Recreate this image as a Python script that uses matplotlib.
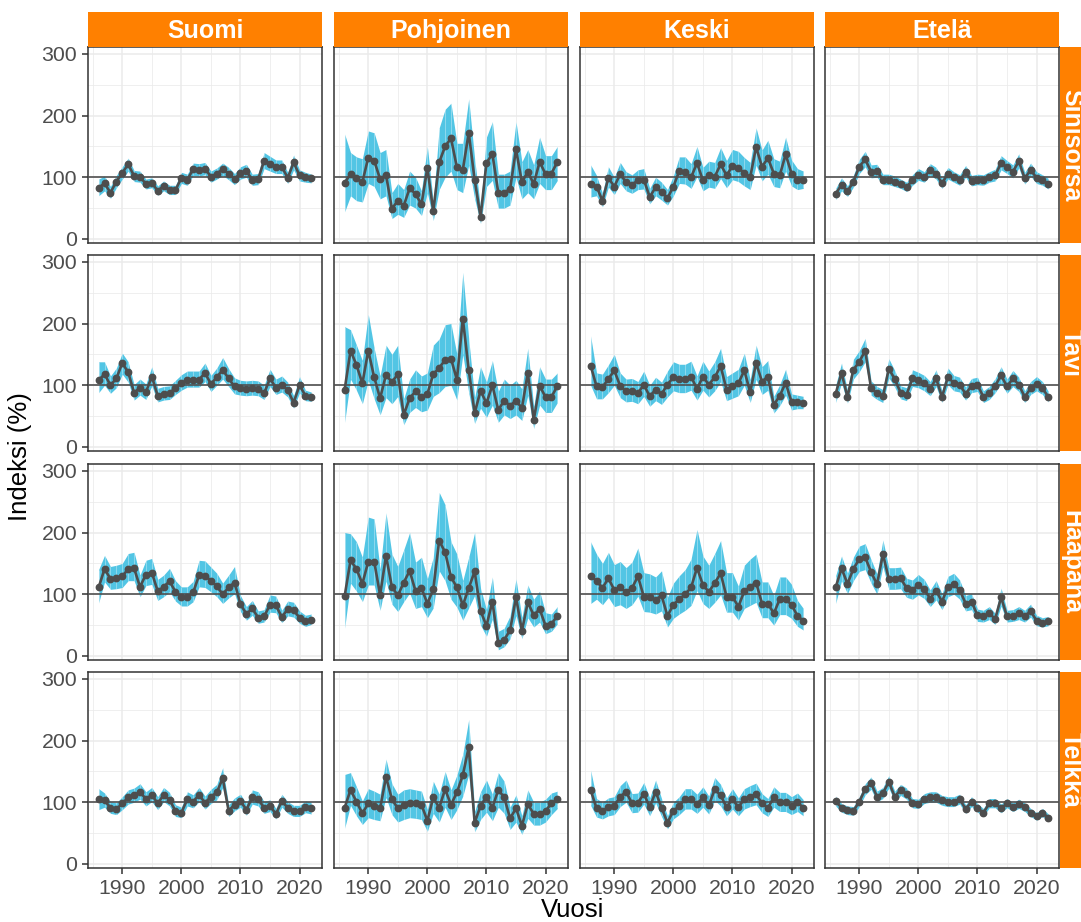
import matplotlib
matplotlib.use("Agg")
import matplotlib.pyplot as plt

plt.rcParams['font.family'] = ['Liberation Sans', 'DejaVu Sans']

years = list(range(1986, 2023))
regions = ["Suomi", "Pohjoinen", "Keski", "Etelä"]
species = ["Sinisorsa", "Tavi", "Haapana", "Telkkä"]

# --- Sinisorsa ---
sinisorsa_suomi = [83, 90, 75, 93, 107, 121, 102, 101, 89, 91, 78, 86, 79, 79, 99, 96, 113, 112, 114, 101,
                   106, 113, 106, 97, 107, 110, 96, 97, 127, 122, 117, 117, 99, 124, 103, 100, 98]
sinisorsa_suomi_lo = [70, 78, 66, 83, 97, 110, 93, 92, 81, 83, 71, 78, 72, 72, 90, 87, 103, 102, 104, 92,
                      97, 103, 96, 88, 97, 100, 87, 88, 114, 110, 106, 106, 90, 112, 94, 92, 91]
sinisorsa_suomi_hi = [97, 102, 85, 103, 117, 131, 111, 110, 97, 99, 86, 94, 87, 87, 108, 105, 123, 122, 124, 110,
                      115, 123, 116, 106, 117, 121, 105, 106, 140, 134, 128, 128, 108, 136, 112, 108, 105]

sinisorsa_pohjoinen = [91, 105, 98, 92, 132, 127, 97, 104, 49, 62, 54, 82, 73, 56, 115, 45, 124, 150, 163, 116,
                       112, 172, 96, 36, 123, 138, 75, 75, 81, 145, 92, 109, 89, 125, 105, 106, 125]
sinisorsa_pohjoinen_lo = [44, 70, 62, 60, 90, 85, 65, 70, 33, 40, 35, 55, 50, 38, 75, 30, 80, 100, 110, 80,
                          75, 120, 65, 25, 85, 95, 50, 50, 55, 100, 65, 75, 65, 90, 80, 80, 95]
sinisorsa_pohjoinen_hi = [170, 140, 133, 130, 175, 172, 140, 145, 75, 90, 80, 110, 100, 78, 150, 60, 180, 210, 220, 155,
                          155, 227, 130, 50, 165, 190, 105, 105, 110, 190, 125, 145, 120, 165, 135, 135, 150]

sinisorsa_keski = [89, 85, 62, 99, 85, 105, 92, 88, 95, 96, 68, 84, 76, 66, 85, 110, 109, 100, 123, 95,
                   103, 101, 121, 103, 118, 115, 107, 100, 149, 117, 131, 106, 103, 137, 106, 96, 96]
sinisorsa_keski_lo = [68, 70, 52, 84, 72, 90, 78, 74, 80, 81, 57, 70, 63, 55, 70, 90, 89, 82, 101, 78,
                      84, 82, 98, 83, 96, 93, 86, 80, 120, 94, 105, 85, 83, 110, 86, 80, 82]
sinisorsa_keski_hi = [120, 103, 74, 117, 100, 124, 109, 104, 112, 114, 82, 100, 92, 80, 102, 133, 133, 122, 150, 116,
                      126, 124, 148, 127, 145, 142, 132, 124, 180, 144, 160, 130, 126, 165, 128, 114, 110]

sinisorsa_etela = [73, 88, 77, 93, 117, 129, 109, 110, 96, 96, 93, 89, 84, 95, 104, 100, 112, 106, 90, 106,
                   100, 95, 109, 94, 96, 95, 100, 103, 123, 116, 109, 126, 98, 112, 99, 95, 89]
sinisorsa_etela_lo = [64, 78, 69, 84, 106, 117, 99, 100, 88, 88, 85, 82, 77, 87, 95, 92, 103, 97, 82, 97,
                      92, 87, 100, 86, 88, 87, 92, 94, 112, 106, 99, 115, 89, 102, 90, 87, 81]
sinisorsa_etela_hi = [82, 99, 86, 103, 129, 142, 120, 121, 105, 105, 102, 97, 92, 104, 114, 109, 122, 116, 99, 116,
                      109, 104, 119, 103, 105, 104, 109, 113, 135, 127, 120, 138, 108, 123, 109, 104, 98]

# --- Tavi ---
tavi_suomi = [108, 118, 100, 111, 136, 121, 88, 96, 89, 114, 83, 86, 87, 96, 103, 109, 109, 109, 120, 102,
              113, 125, 111, 98, 95, 94, 95, 94, 87, 111, 96, 101, 92, 72, 100, 83, 81]
tavi_suomi_lo = [88, 100, 87, 96, 118, 105, 76, 84, 77, 99, 73, 76, 77, 85, 92, 97, 97, 97, 106, 90,
                 100, 110, 98, 86, 84, 83, 84, 83, 77, 98, 85, 89, 81, 63, 88, 75, 74]
tavi_suomi_hi = [138, 138, 115, 128, 152, 138, 101, 110, 102, 130, 95, 98, 99, 108, 117, 123, 123, 123, 136, 116,
                 128, 145, 127, 112, 108, 107, 108, 107, 100, 126, 110, 115, 105, 83, 114, 92, 89]

tavi_pohjoinen = [93, 156, 133, 103, 156, 113, 79, 117, 105, 118, 52, 79, 90, 81, 86, 118, 128, 141, 143, 109,
                  208, 125, 55, 91, 71, 100, 60, 75, 67, 75, 63, 120, 44, 99, 81, 81, 99]
tavi_pohjoinen_lo = [40, 110, 92, 70, 108, 78, 52, 80, 70, 82, 36, 56, 64, 57, 60, 82, 88, 98, 100, 76,
                     150, 88, 38, 63, 48, 68, 40, 52, 46, 52, 43, 84, 30, 68, 56, 56, 72]
tavi_pohjoinen_hi = [195, 190, 165, 140, 215, 160, 115, 165, 150, 165, 78, 110, 125, 115, 120, 165, 175, 198, 200, 150,
                     283, 175, 80, 130, 105, 140, 90, 110, 100, 108, 94, 160, 65, 130, 110, 110, 120]

tavi_keski = [132, 98, 97, 110, 124, 99, 90, 91, 87, 101, 82, 93, 86, 101, 113, 110, 110, 114, 94, 114,
              101, 113, 131, 93, 98, 103, 124, 89, 136, 106, 114, 68, 83, 104, 73, 73, 72]
tavi_keski_lo = [100, 78, 78, 88, 100, 80, 73, 74, 70, 82, 66, 75, 69, 81, 91, 88, 88, 92, 76, 92,
                 81, 91, 106, 75, 79, 83, 100, 72, 110, 85, 92, 55, 67, 84, 60, 62, 62]
tavi_keski_hi = [180, 120, 118, 133, 150, 120, 110, 111, 106, 123, 100, 113, 105, 123, 138, 134, 134, 139, 115, 139,
                 123, 138, 160, 114, 120, 126, 152, 109, 165, 130, 140, 82, 101, 126, 86, 84, 82]

tavi_etela = [86, 120, 81, 125, 138, 156, 95, 87, 82, 127, 110, 88, 85, 111, 108, 103, 94, 111, 81, 114,
              103, 101, 86, 99, 101, 81, 87, 99, 116, 98, 111, 101, 81, 95, 102, 95, 81]
tavi_etela_lo = [72, 104, 71, 110, 122, 138, 84, 77, 72, 112, 97, 78, 75, 98, 96, 91, 83, 98, 72, 101,
                 91, 89, 76, 88, 90, 72, 77, 88, 103, 87, 98, 90, 72, 85, 91, 85, 73]
tavi_etela_hi = [100, 136, 92, 142, 156, 176, 107, 98, 93, 143, 124, 99, 96, 125, 121, 116, 106, 125, 91, 128,
                 116, 113, 97, 111, 113, 91, 98, 111, 130, 110, 124, 113, 91, 106, 114, 106, 90]

# --- Haapana ---
haapana_suomi = [111, 141, 125, 126, 129, 141, 142, 112, 132, 135, 105, 112, 121, 104, 95, 95, 103, 131, 130, 122,
                 113, 100, 111, 119, 84, 68, 77, 62, 64, 83, 82, 63, 76, 74, 62, 56, 59]
haapana_suomi_lo = [86, 120, 108, 109, 111, 122, 122, 96, 114, 116, 90, 96, 104, 89, 81, 81, 88, 112, 111, 104,
                    96, 85, 94, 101, 72, 58, 66, 53, 55, 71, 70, 54, 65, 63, 53, 48, 51]
haapana_suomi_hi = [140, 163, 145, 147, 150, 166, 168, 131, 155, 158, 124, 131, 142, 122, 112, 112, 121, 155, 154, 144,
                    134, 118, 131, 145, 98, 80, 90, 73, 75, 99, 97, 74, 89, 87, 73, 66, 68]

haapana_pohjoinen = [97, 155, 141, 117, 153, 153, 99, 162, 112, 98, 119, 138, 105, 110, 85, 108, 187, 168, 128, 111,
                     82, 110, 137, 73, 49, 88, 21, 26, 42, 95, 41, 87, 66, 76, 49, 52, 65]
haapana_pohjoinen_lo = [45, 118, 105, 88, 115, 115, 74, 122, 84, 72, 88, 102, 77, 80, 62, 78, 138, 122, 92, 79,
                        58, 78, 98, 50, 32, 60, 10, 15, 28, 66, 28, 62, 47, 55, 36, 40, 52]
haapana_pohjoinen_hi = [200, 198, 185, 160, 225, 222, 140, 232, 165, 145, 172, 200, 152, 160, 125, 160, 265, 245, 185, 165,
                        122, 160, 200, 110, 75, 128, 40, 45, 65, 125, 62, 115, 92, 105, 70, 68, 80]

haapana_keski = [129, 122, 110, 126, 107, 111, 103, 110, 129, 96, 95, 91, 98, 65, 83, 92, 100, 111, 143, 115,
                 104, 118, 134, 96, 96, 80, 105, 112, 119, 85, 85, 69, 92, 92, 83, 65, 57]
haapana_keski_lo = [85, 92, 83, 95, 80, 83, 77, 83, 97, 72, 71, 68, 73, 47, 61, 68, 74, 82, 106, 85,
                    77, 87, 99, 71, 71, 58, 77, 82, 87, 62, 62, 50, 67, 67, 61, 48, 42]
haapana_keski_hi = [185, 165, 150, 168, 148, 153, 143, 152, 175, 135, 133, 128, 138, 95, 118, 130, 140, 157, 205, 162,
                    147, 166, 187, 135, 135, 113, 147, 157, 165, 120, 120, 98, 128, 128, 116, 90, 77]

haapana_etela = [111, 142, 117, 141, 157, 160, 136, 116, 165, 125, 125, 126, 110, 107, 115, 108, 93, 106, 88, 112,
                 116, 107, 85, 88, 66, 64, 69, 60, 95, 64, 65, 69, 64, 73, 57, 54, 56]
haapana_etela_lo = [85, 122, 101, 122, 137, 140, 118, 100, 145, 108, 108, 109, 95, 92, 99, 93, 80, 91, 75, 96,
                    100, 92, 73, 75, 56, 55, 59, 51, 81, 55, 56, 59, 55, 63, 49, 47, 49]
haapana_etela_hi = [130, 162, 134, 160, 178, 182, 156, 133, 188, 143, 143, 144, 126, 123, 132, 124, 107, 122, 101, 129,
                    134, 123, 98, 101, 76, 74, 80, 69, 110, 74, 75, 80, 74, 84, 66, 62, 64]

# --- Telkkä ---
telkka_suomi = [105, 103, 91, 89, 98, 108, 111, 117, 105, 112, 98, 112, 104, 86, 83, 105, 101, 112, 99, 109,
                116, 139, 86, 96, 102, 88, 108, 105, 91, 94, 81, 102, 91, 86, 86, 92, 90]
telkka_suomi_lo = [88, 92, 82, 80, 88, 97, 100, 105, 94, 101, 88, 101, 94, 77, 75, 94, 91, 101, 89, 98,
                   104, 124, 77, 86, 92, 79, 97, 94, 82, 85, 73, 92, 82, 77, 77, 83, 81]
telkka_suomi_hi = [122, 115, 101, 99, 109, 120, 123, 130, 117, 124, 109, 124, 116, 96, 92, 117, 112, 124, 110, 121,
                   129, 156, 96, 107, 113, 98, 120, 117, 101, 104, 90, 113, 101, 95, 95, 102, 100]

telkka_pohjoinen = [91, 120, 101, 82, 98, 94, 90, 141, 105, 90, 96, 99, 98, 96, 70, 108, 91, 121, 96, 116,
                    144, 189, 67, 94, 109, 91, 120, 108, 74, 90, 62, 97, 81, 81, 86, 98, 105]
telkka_pohjoinen_lo = [58, 95, 78, 64, 75, 72, 70, 108, 80, 68, 72, 75, 74, 72, 53, 82, 68, 92, 72, 88,
                       110, 145, 52, 72, 84, 70, 92, 82, 56, 68, 48, 74, 63, 63, 68, 80, 90]
telkka_pohjoinen_hi = [145, 148, 125, 102, 122, 118, 113, 170, 130, 113, 120, 122, 120, 118, 88, 134, 113, 150, 120, 144,
                       178, 234, 85, 117, 136, 113, 148, 134, 92, 112, 78, 120, 100, 100, 105, 115, 118]

telkka_keski = [120, 90, 86, 92, 94, 109, 117, 98, 99, 114, 92, 117, 91, 67, 86, 94, 105, 105, 97, 108,
                95, 121, 111, 92, 105, 92, 105, 109, 113, 98, 91, 108, 100, 100, 94, 100, 91]
telkka_keski_lo = [95, 76, 73, 78, 80, 93, 100, 83, 84, 97, 78, 99, 77, 57, 73, 80, 89, 89, 82, 92,
                   81, 103, 94, 78, 89, 78, 89, 93, 96, 83, 77, 92, 85, 85, 80, 85, 78]
telkka_keski_hi = [152, 106, 100, 107, 109, 127, 136, 114, 115, 132, 107, 136, 106, 78, 100, 109, 122, 122, 113, 125,
                   110, 140, 129, 107, 122, 107, 122, 127, 131, 114, 106, 125, 116, 116, 109, 115, 104]

telkka_etela = [102, 91, 87, 86, 101, 121, 131, 109, 115, 133, 109, 120, 114, 98, 97, 106, 108, 108, 103, 101,
                101, 105, 89, 101, 91, 83, 98, 98, 90, 98, 92, 97, 92, 83, 77, 83, 75]
telkka_etela_lo = [94, 84, 80, 79, 93, 112, 121, 101, 106, 123, 101, 111, 105, 91, 90, 98, 100, 100, 95, 93,
                   93, 97, 82, 93, 84, 77, 91, 91, 83, 91, 85, 90, 85, 77, 71, 77, 69]
telkka_etela_hi = [110, 98, 94, 93, 109, 130, 141, 118, 124, 143, 118, 129, 123, 106, 105, 114, 117, 117, 111, 109,
                   109, 113, 96, 109, 98, 90, 106, 106, 97, 106, 99, 105, 99, 90, 83, 90, 81]

series = {
    ("Sinisorsa", "Suomi"): (sinisorsa_suomi, sinisorsa_suomi_lo, sinisorsa_suomi_hi),
    ("Sinisorsa", "Pohjoinen"): (sinisorsa_pohjoinen, sinisorsa_pohjoinen_lo, sinisorsa_pohjoinen_hi),
    ("Sinisorsa", "Keski"): (sinisorsa_keski, sinisorsa_keski_lo, sinisorsa_keski_hi),
    ("Sinisorsa", "Etelä"): (sinisorsa_etela, sinisorsa_etela_lo, sinisorsa_etela_hi),
    ("Tavi", "Suomi"): (tavi_suomi, tavi_suomi_lo, tavi_suomi_hi),
    ("Tavi", "Pohjoinen"): (tavi_pohjoinen, tavi_pohjoinen_lo, tavi_pohjoinen_hi),
    ("Tavi", "Keski"): (tavi_keski, tavi_keski_lo, tavi_keski_hi),
    ("Tavi", "Etelä"): (tavi_etela, tavi_etela_lo, tavi_etela_hi),
    ("Haapana", "Suomi"): (haapana_suomi, haapana_suomi_lo, haapana_suomi_hi),
    ("Haapana", "Pohjoinen"): (haapana_pohjoinen, haapana_pohjoinen_lo, haapana_pohjoinen_hi),
    ("Haapana", "Keski"): (haapana_keski, haapana_keski_lo, haapana_keski_hi),
    ("Haapana", "Etelä"): (haapana_etela, haapana_etela_lo, haapana_etela_hi),
    ("Telkkä", "Suomi"): (telkka_suomi, telkka_suomi_lo, telkka_suomi_hi),
    ("Telkkä", "Pohjoinen"): (telkka_pohjoinen, telkka_pohjoinen_lo, telkka_pohjoinen_hi),
    ("Telkkä", "Keski"): (telkka_keski, telkka_keski_lo, telkka_keski_hi),
    ("Telkkä", "Etelä"): (telkka_etela, telkka_etela_lo, telkka_etela_hi),
}

# colours (ggplot theme_bw look)
STRIP = '#ff8000'
RIBBON = '#52c5e4'
LINE = '#4d4d4d'
BORDER = '#333333'
GRID = '#ebebeb'

W, H = 1081, 922
fig = plt.figure(figsize=(W / 100, H / 100), dpi=100)


def box(x0, y0, w, h):
    # axes placed in pixel units, origin at top-left
    return fig.add_axes([x0 / W, 1 - (y0 + h) / H, w / W, h / H])


col_x = [88, 334, 580, 825]
row_y = [47, 255, 464, 672]
pw, ph = 234, 196

for r, sp in enumerate(species):
    for c, reg in enumerate(regions):
        v, lo, hi = series[(sp, reg)]
        ax = box(col_x[c], row_y[r], pw, ph)
        ax.fill_between(years, lo, hi, color=RIBBON, lw=0, zorder=2)
        # faint seams between yearly ribbon pieces
        ax.vlines(years, lo, hi, color='white', lw=0.7, alpha=0.35, zorder=2.1)
        ax.axhline(100, color='#505050', lw=1.2, zorder=3)
        ax.plot(years, v, color=LINE, lw=1.9, marker='o', ms=4.6, zorder=4)

        ax.set_xlim(1984.2, 2023.8)
        ax.set_ylim(-6.5, 311)
        ax.set_xticks([1990, 2000, 2010, 2020])
        ax.set_xticks([1985, 1995, 2005, 2015], minor=True)
        ax.set_yticks([0, 100, 200, 300])
        ax.set_yticks([50, 150, 250], minor=True)
        ax.grid(which='major', color=GRID, lw=1.1)
        ax.grid(which='minor', color=GRID, lw=0.55)
        ax.set_axisbelow(True)
        for s in ax.spines.values():
            s.set_color(BORDER)
            s.set_linewidth(1.1)
        ax.tick_params(which='major', length=4.3, width=1.1, color=BORDER,
                       labelsize=15.3, labelcolor='#4d4d4d', pad=3.5)
        ax.tick_params(which='minor', length=0)
        if c > 0:
            ax.tick_params(left=False, labelleft=False)
        if r < 3:
            ax.tick_params(bottom=False, labelbottom=False)

# top strips
for c, reg in enumerate(regions):
    sax = box(col_x[c], 12, pw, 35)
    sax.set_facecolor(STRIP)
    sax.set_xticks([]); sax.set_yticks([])
    for s in sax.spines.values():
        s.set_visible(False)
    sax.text(0.5, 0.47, reg, transform=sax.transAxes, ha='center', va='center',
             color='white', fontsize=18, fontweight='bold')

# right strips (cut by the figure edge like in the original)
for r, sp in enumerate(species):
    sax = box(1060, row_y[r], 40, ph)
    sax.set_facecolor(STRIP)
    sax.set_xticks([]); sax.set_yticks([])
    for s in sax.spines.values():
        s.set_visible(False)
    sax.text(0.1, 0.5, sp, transform=sax.transAxes, ha='center', va='baseline',
             rotation=-90, rotation_mode='anchor', color='white', fontsize=18, fontweight='bold')

fig.text(573 / W, 1 - 910 / H, "Vuosi", ha='center', va='center', fontsize=18.5, color='black')
fig.text(20 / W, 1 - 457 / H, "Indeksi (%)", ha='center', va='center', rotation=90,
         fontsize=18.5, color='black')

fig.savefig("out.png", dpi=100)
